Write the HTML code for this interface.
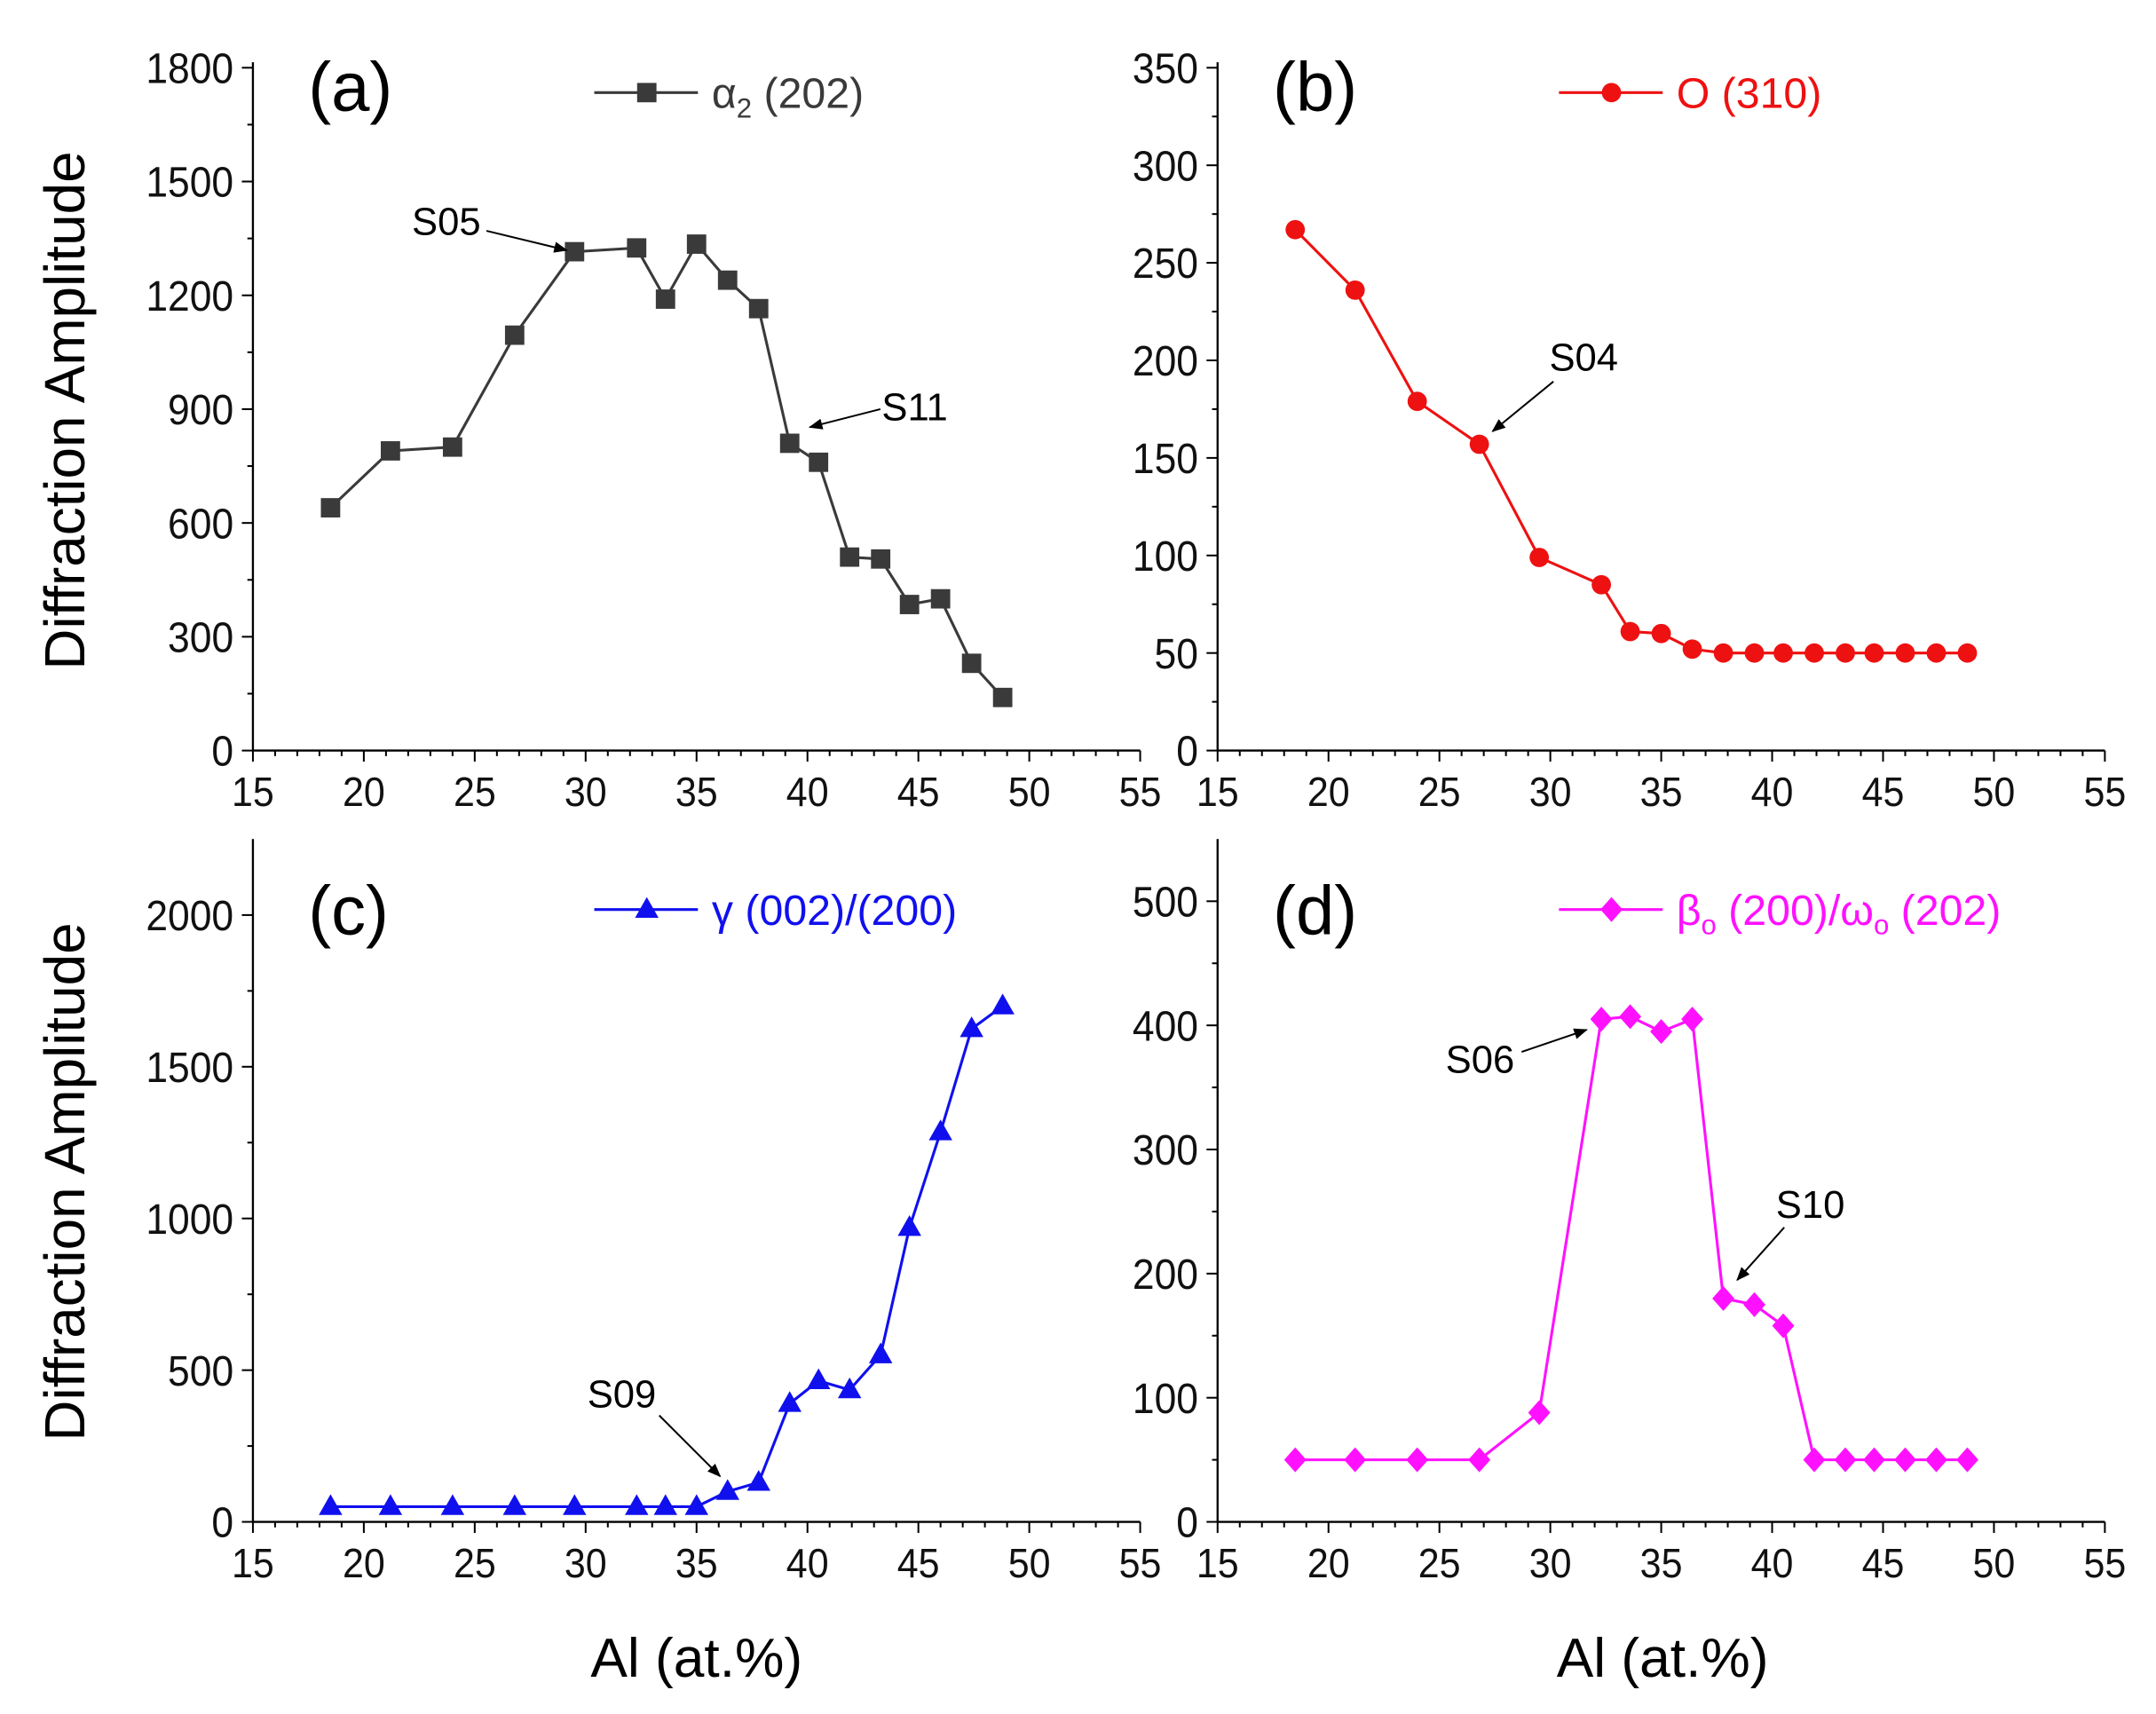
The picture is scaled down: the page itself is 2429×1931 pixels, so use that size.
<!DOCTYPE html>
<html><head><meta charset="utf-8"><style>
html,body{margin:0;padding:0;background:#fff;}
svg{display:block;}
text{font-family:"Liberation Sans",Arial,sans-serif;}
</style></head><body>
<svg id="fig" width="2429" height="1931" viewBox="0 0 1560 1240" preserveAspectRatio="none" xmlns="http://www.w3.org/2000/svg">
<defs>
<marker id="arr" markerWidth="10" markerHeight="8" refX="9" refY="4" orient="auto" markerUnits="userSpaceOnUse">
<path d="M0,0 L10,4 L0,8 Z" fill="#000"/></marker>
</defs>
<g id="root"></g>
</svg>
<script>
const alValues = [18.5,21.2,24,26.8,29.5,32.3,33.6,35,36.4,37.8,39.2,40.5,41.9,43.3,44.6,46,47.4,48.8];
const alpha2Values = [640,790,800,1095,1315,1325,1190,1335,1240,1165,810,760,510,505,385,400,230,140];
const oValues = [267,236,179,157,99,85,61,60,52,50,50,50,50,50,50,50,50,50];
const gammaValues = [50,50,50,50,50,50,50,50,100,130,390,465,435,550,970,1285,1625,1700];
const betaValues = [50,50,50,50,88,405,407,395,405,180,175,158,50,50,50,50,50,50];
const xTicks = [15,20,25,30,35,40,45,50,55];
const yTicksA = [0,300,600,900,1200,1500,1800];
const yTicksB = [0,50,100,150,200,250,300,350];
const yTicksC = [0,500,1000,1500,2000];
const yTicksD = [0,100,200,300,400,500];

const NS="http://www.w3.org/2000/svg";
const root=document.getElementById('root');
function el(tag,attrs,parent,txt){const e=document.createElementNS(NS,tag);for(const k in attrs)e.setAttribute(k,attrs[k]);if(txt!==undefined)e.textContent=txt;(parent||root).appendChild(e);return e;}

function panel(cfg){
  const g=el('g',{});
  
  
  const xs=v=>cfg.x0+(v-15)/40*(cfg.x1-cfg.x0);
  const ys=v=>cfg.y0-(v-0)/(cfg.ymax)*(cfg.y0-cfg.ytop);
  const ax=el('line',{x1:cfg.x0,y1:cfg.y0,x2:cfg.x1,y2:cfg.y0,stroke:'#000','stroke-width':1.5},g);
  
  
  const ay=el('line',{x1:cfg.x0,y1:cfg.y0,x2:cfg.x0,y2:cfg.axisTop,stroke:'#000','stroke-width':1.5},g);
  
  
  for(let v=15;v<=55;v++){const maj=v%5===0;el('line',{x1:xs(v),y1:cfg.y0,x2:xs(v),y2:cfg.y0+(maj?8:4),stroke:'#000','stroke-width':1.3},g);}
  xTicks.forEach(v=>{const t=el('text',{x:xs(v),y:cfg.y0+40,'font-size':30,'text-anchor':'middle',fill:'#111',transform:`translate(${xs(v)},0) scale(0.92,1) translate(${-xs(v)},0)`},g,String(v));
    
    });
  const st=cfg.yticks[1]-cfg.yticks[0];
  for(let v=0;v<=cfg.ymax+1e-9;v+=st/2){const maj=Math.abs(v/st-Math.round(v/st))<1e-6;el('line',{x1:cfg.x0,y1:ys(v),x2:cfg.x0-(maj?8:4),y2:ys(v),stroke:'#000','stroke-width':1.3},g);}
  cfg.yticks.forEach(v=>{const xx=cfg.x0-14;const t=el('text',{x:xx,y:ys(v)+11,'font-size':31,'text-anchor':'end',fill:'#111',transform:`translate(${xx},0) scale(0.92,1) translate(${-xx},0)`},g,String(v));
    
    });
  const pts=alValues.map((x,i)=>xs(x)+','+ys(cfg.values[i])).join(' ');
  const pl=el('polyline',{points:pts,fill:'none',stroke:cfg.color,'stroke-width':2},g);
  
  
  alValues.forEach((x,i)=>{const m=marker(cfg.marker,xs(x),ys(cfg.values[i]),cfg.color,g);
    
    });
  const pl2=el('text',{x:cfg.x0+40,y:cfg.labelY,'font-size':50,fill:'#000'},g,cfg.label);
  
  
  const lg=el('g',{},g);
  
  
  el('line',{x1:cfg.x0+247,y1:cfg.legY,x2:cfg.x0+322,y2:cfg.legY,stroke:cfg.color,'stroke-width':2},lg);
  marker(cfg.marker,cfg.x0+285,cfg.legY,cfg.color,lg);
  const lt=el('text',{x:cfg.x0+332,y:cfg.legY+11,'font-size':31,fill:cfg.color,'font-family':cfg.legSerif?'"Liberation Serif",serif':'"Liberation Sans",sans-serif'},lg);
  lt.innerHTML=cfg.legend;
  cfg.ann.forEach(a=>{const t=el('text',{x:a.tx,y:a.ty,'font-size':28,fill:'#000'},g,a.t);
    
    
    el('line',{x1:a.ax1,y1:a.ay1,x2:a.ax2,y2:a.ay2,stroke:'#000','stroke-width':1.3,'marker-end':'url(#arr)'},g);});
  return g;
}
function marker(type,x,y,c,p){
  if(type==='sq')return el('rect',{x:x-7,y:y-7,width:14,height:14,fill:c},p);
  if(type==='ci')return el('circle',{cx:x,cy:y,r:7,fill:c},p);
  if(type==='tr')return el('path',{d:`M${x},${y-9} L${x+8.5},${y+6} L${x-8.5},${y+6} Z`,fill:c},p);
  return el('path',{d:`M${x},${y-9} L${x+8},${y} L${x},${y+9} L${x-8},${y} Z`,fill:c},p);
}
panel({name:'panel-a-alpha2',x0:183,x1:825,y0:543,ytop:49,ymax:1800,axisTop:45,yticks:yTicksA,values:alpha2Values,color:'#3a3a3a',marker:'sq',label:'(a)',labelY:80,legY:67,
  legend:'α<tspan font-size="20" dy="7">2</tspan><tspan dy="-7"> (202)</tspan>',
  ann:[{t:'S05',tx:298,ty:170,ax1:352,ay1:167,ax2:410,ay2:181},{t:'S11',tx:638,ty:304,ax1:637,ay1:296,ax2:586,ay2:309}]});
panel({name:'panel-b-o-phase',x0:881,x1:1523,y0:543,ytop:49,ymax:350,axisTop:45,yticks:yTicksB,values:oValues,color:'#ee1111',marker:'ci',label:'(b)',labelY:80,legY:67,legSerif:true,
  legend:'O (310)',
  ann:[{t:'S04',tx:1121,ty:268,ax1:1124,ay1:276,ax2:1080,ay2:312}]});
panel({name:'panel-c-gamma',x0:183,x1:825,y0:1101,ytop:662,ymax:2000,axisTop:607,yticks:yTicksC,values:gammaValues,color:'#1010ee',marker:'tr',label:'(c)',labelY:676,legY:658,
  legend:'γ (002)/(200)',
  ann:[{t:'S09',tx:425,ty:1018,ax1:477,ay1:1024,ax2:521,ay2:1068}]});
panel({name:'panel-d-beta-omega',x0:881,x1:1523,y0:1101,ytop:652,ymax:500,axisTop:607,yticks:yTicksD,values:betaValues,color:'#ff11ff',marker:'di',label:'(d)',labelY:676,legY:658,
  legend:'β<tspan font-size="20" dy="7">o</tspan><tspan dy="-7"> (200)/ω</tspan><tspan font-size="20" dy="7">o</tspan><tspan dy="-7"> (202)</tspan>',
  ann:[{t:'S06',tx:1046,ty:776,ax1:1101,ay1:761,ax2:1148,ay2:745},{t:'S10',tx:1285,ty:881,ax1:1291,ay1:888,ax2:1257,ay2:926}]});
[[47,297],[47,855]].forEach(([x,y])=>{const t=el('text',{x:x,y:y+14,'font-size':41,'text-anchor':'middle',transform:`rotate(-90 ${x} ${y})`,fill:'#000'},root,'Diffraction Amplitude');
  
  });
[504,1203].forEach(x=>{const t=el('text',{x:x,y:1213,'font-size':40,'text-anchor':'middle',fill:'#000'},root,'Al (at.%)');
  
  });
</script>
</body></html>
